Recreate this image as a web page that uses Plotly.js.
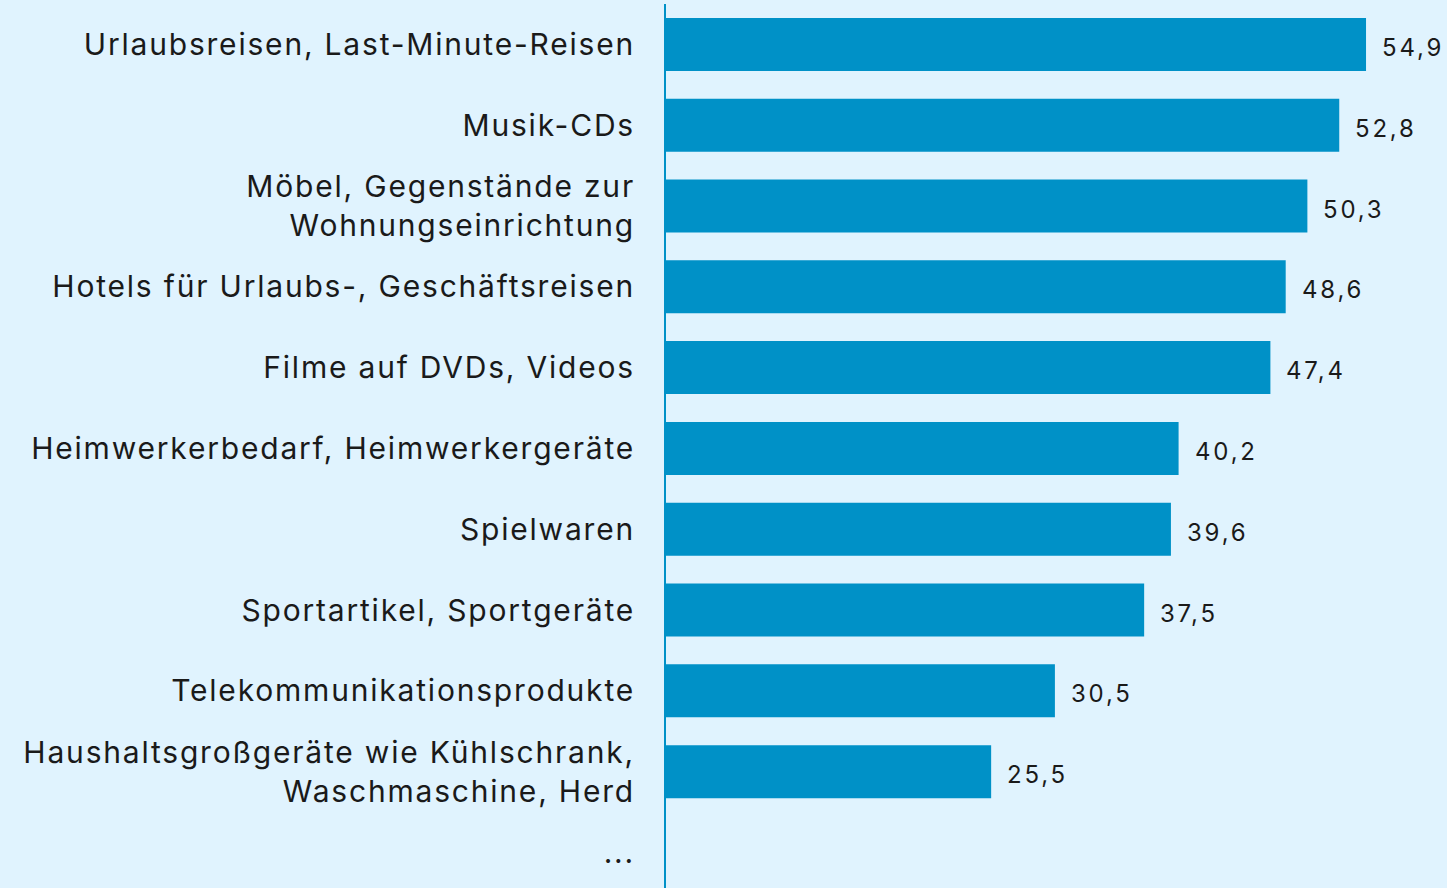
<!DOCTYPE html>
<html>
<head>
<meta charset="utf-8">
<script src="https://cdn.plot.ly/plotly-3.0.1.min.js"></script>
<style>
  html, body { margin: 0; padding: 0; background: #e0f3fe; }
  #chart { width: 1447px; height: 888px; }
  .ytick text { letter-spacing: 1.8px; }
  .annotation-text { letter-spacing: 2.8px; }
</style>
</head>
<body>
<div id="chart"></div>
<script>
const categories = [
  "Urlaubsreisen, Last-Minute-Reisen",
  "Musik-CDs",
  "Möbel, Gegenstände zur<br>Wohnungseinrichtung",
  "Hotels für Urlaubs-, Geschäftsreisen",
  "Filme auf DVDs, Videos",
  "Heimwerkerbedarf, Heimwerkergeräte",
  "Spielwaren",
  "Sportartikel, Sportgeräte",
  "Telekommunikationsprodukte",
  "Haushaltsgroßgeräte wie Kühlschrank,<br>Waschmaschine, Herd",
  "..."
];
const values = [54.9, 52.8, 50.3, 48.6, 47.4, 40.2, 39.6, 37.5, 30.5, 25.5, null];

const fmt = v => v.toFixed(1).replace('.', ',');

const barColor = '#0091c7';
const bg = '#e0f3fe';

const trace = {
  type: 'bar',
  orientation: 'h',
  x: values,
  y: categories,
  marker: { color: barColor, line: { width: 0 } },
  hoverinfo: 'none'
};

const annotations = categories
  .map((c, i) => ({ c, v: values[i] }))
  .filter(d => d.v !== null)
  .map(d => ({
    x: d.v, y: d.c, xref: 'x', yref: 'y',
    text: fmt(d.v),
    showarrow: false,
    xanchor: 'left', yanchor: 'middle',
    xshift: 14, yshift: -3,
    font: { family: 'Inter', size: 24, color: '#1a1a1a' }
  }));

const layout = {
  width: 1447, height: 888,
  margin: { l: 666, r: 0, t: 4, b: 0, pad: 0 },
  paper_bgcolor: bg, plot_bgcolor: bg,
  showlegend: false,
  bargap: 0.344,
  xaxis: {
    range: [0, 61.25],
    showgrid: false, zeroline: false, showline: false,
    showticklabels: false, ticks: ''
  },
  yaxis: {
    type: 'category',
    range: [10.44, -0.5],
    showgrid: false, zeroline: false,
    showline: true, linecolor: barColor, linewidth: 2,
    ticks: '',
    ticklabelstandoff: 23,
    tickfont: { family: 'Inter', size: 30, color: '#1a1a1a' }
  },
  annotations: annotations
};

Plotly.newPlot('chart', [trace], layout, { displayModeBar: false, staticPlot: true });
</script>
</body>
</html>
